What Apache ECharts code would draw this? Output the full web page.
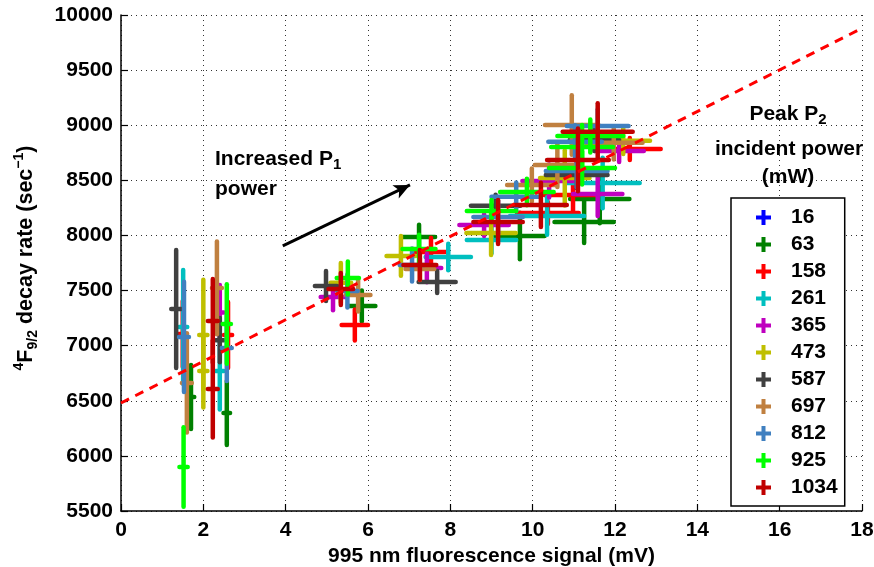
<!DOCTYPE html>
<html>
<head>
<meta charset="utf-8">
<script src="https://cdn.jsdelivr.net/npm/echarts@6/dist/echarts.min.js"></script>
<style>
  html, body { margin: 0; padding: 0; background: #fff; }
  #chart { width: 874px; height: 567px; }
</style>
</head>
<body>
<div id="chart"></div>
<script>
// legend names (peak P2 incident power, mW) and their colours
const powers = ["16", "63", "158", "261", "365", "473", "587", "697", "812", "925", "1034"];
const colors = ["#0000ff", "#008000", "#ff0000", "#00bfbf", "#bf00bf", "#bfbf00",
                "#404040", "#c08040", "#4080c0", "#00ff00", "#c00000"];

// points: [signal (mV), decay rate (1/s), x error, y error]
const p16 = [];
const p63 = [[1.70, 6535, 0.08, 290], [2.57, 6389, 0.08, 290], [5.85, 7360, 0.33, 140],
             [7.24, 7986, 0.39, 110], [9.69, 7995, 0.60, 210], [11.25, 8122, 0.72, 190],
             [11.63, 8331, 0.72, 220]];
const p158 = [[1.50, 7106, 0.10, 300], [2.60, 7097, 0.10, 300], [5.68, 7188, 0.32, 140],
              [7.53, 7850, 0.40, 130], [10.37, 8204, 0.75, 100], [10.98, 8367, 0.70, 150],
              [12.36, 8785, 0.75, 100]];
const p261 = [[1.51, 7170, 0.10, 517], [2.40, 6770, 0.10, 350], [7.95, 7805, 0.55, 120],
              [9.00, 7959, 0.60, 120], [10.35, 8177, 0.90, 170], [11.70, 8476, 0.90, 230]];
const p365 = [[2.40, 7300, 0.10, 250], [5.15, 7442, 0.30, 120], [7.43, 7705, 0.35, 130],
              [8.82, 8095, 0.60, 100], [10.40, 8494, 0.65, 150], [11.58, 8377, 0.60, 200],
              [12.10, 8767, 0.60, 100]];
const p473 = [[2.00, 7097, 0.10, 500], [2.00, 6770, 0.10, 330], [5.34, 7570, 0.25, 180],
              [6.80, 7814, 0.35, 180], [8.99, 8023, 0.60, 200], [10.78, 8522, 0.60, 250],
              [12.20, 8858, 0.65, 120]];
const p587 = [[1.34, 7333, 0.12, 535], [2.40, 7050, 0.10, 200], [4.98, 7542, 0.27, 136],
              [7.68, 7578, 0.45, 100], [9.10, 8270, 0.60, 100], [11.07, 8549, 0.75, 120],
              [11.50, 8867, 0.60, 100]];
const p697 = [[1.60, 6662, 0.12, 450], [2.33, 7524, 0.12, 420], [5.76, 7460, 0.30, 150],
              [7.26, 7696, 0.35, 100], [9.98, 8458, 0.60, 150], [10.60, 8640, 0.55, 200],
              [10.95, 9003, 0.65, 270], [11.97, 8840, 0.70, 150]];
const p812 = [[1.53, 7079, 0.12, 500], [2.57, 6979, 0.12, 300], [5.50, 7496, 0.25, 150],
              [7.07, 7732, 0.30, 150], [9.16, 8168, 0.60, 150], [9.60, 8350, 0.60, 130],
              [11.07, 8585, 0.75, 150], [11.03, 8849, 0.65, 150], [11.58, 8994, 0.75, 150]];
const p925 = [[1.52, 5899, 0.10, 360], [2.57, 7197, 0.10, 360], [5.51, 7614, 0.27, 150],
              [7.24, 7877, 0.40, 130], [9.00, 8222, 0.60, 100], [9.86, 8395, 0.65, 120],
              [11.20, 8612, 0.80, 150], [11.20, 8803, 0.75, 200], [11.40, 8903, 0.80, 150]];
const p1034 = [[2.23, 7224, 0.12, 380], [2.23, 6607, 0.12, 440], [5.34, 7515, 0.30, 145],
               [7.26, 7732, 0.40, 135], [9.16, 8122, 0.60, 200], [10.20, 8277, 0.63, 200],
               [11.10, 8685, 0.75, 285], [11.58, 8940, 0.85, 260]];
const points = [p16, p63, p158, p261, p365, p473, p587, p697, p812, p925, p1034];

// linear fit and the "increased P1" arrow, in data units
const fitLine = [[0, 6480], [18, 9880]];
const arrowLine = [[3.93, 7905], [7.02, 8458]];

const FONT = "Liberation Sans, Arial, Helvetica, sans-serif";
const FS = 21;
const plus = "path://M5.5,0H9.5V5.5H15V9.5H9.5V15H5.5V9.5H0V5.5H5.5Z";

function crossSeries(name, color, data) {
  return {
    name: name,
    type: "custom",
    data: data,
    itemStyle: { color: color },
    encode: { x: 0, y: 1 },
    renderItem: function (params, api) {
      const x = api.value(0), y = api.value(1), ex = api.value(2), ey = api.value(3);
      const l = api.coord([x - ex, y]), r = api.coord([x + ex, y]);
      const t = api.coord([x, y + ey]), b = api.coord([x, y - ey]);
      const style = { stroke: color, lineWidth: 4.5, lineCap: "round" };
      return {
        type: "group",
        children: [
          { type: "line", shape: { x1: l[0], y1: l[1], x2: r[0], y2: r[1] }, style: style },
          { type: "line", shape: { x1: t[0], y1: t[1], x2: b[0], y2: b[1] }, style: style }
        ]
      };
    }
  };
}

const series = powers.map(function (p, i) { return crossSeries(p, colors[i], points[i]); });
series.push({
  type: "line",
  data: fitLine,
  symbol: "none",
  silent: true,
  z: 5,
  lineStyle: { color: "#ff0000", width: 3, type: [9, 7] }
});
series.push({
  type: "line",
  data: [],
  silent: true,
  markLine: {
    silent: true,
    symbol: ["none", "arrow"],
    symbolSize: [11, 16],
    label: { show: false },
    lineStyle: { color: "#000", width: 3, type: "solid" },
    data: [[{ coord: arrowLine[0] }, { coord: arrowLine[1] }]]
  }
});

const chart = echarts.init(document.getElementById("chart"));
chart.setOption({
  animation: false,
  backgroundColor: "#fff",
  textStyle: { fontFamily: FONT },
  grid: { left: 121, top: 15, right: 12, bottom: 56, containLabel: false, outerBoundsMode: "none" },
  xAxis: {
    type: "value",
    min: 0, max: 18, interval: 2,
    name: "995 nm fluorescence signal (mV)",
    nameLocation: "middle",
    nameGap: 34,
    nameTextStyle: { fontSize: FS, fontWeight: "bold", color: "#000", fontFamily: FONT },
    axisLine: { lineStyle: { color: "#000", width: 1.5 } },
    axisTick: { inside: true, length: 7, lineStyle: { color: "#000", width: 1.2 } },
    axisLabel: { fontSize: FS, fontWeight: "bold", color: "#000", margin: 9, fontFamily: FONT },
    splitLine: { show: true, lineStyle: { color: "#333", width: 1, type: [1, 4] } }
  },
  yAxis: {
    type: "value",
    min: 5500, max: 10000, interval: 500,
    axisLine: { show: true, lineStyle: { color: "#000", width: 1.5 } },
    axisTick: { show: true, inside: true, length: 7, lineStyle: { color: "#000", width: 1.2 } },
    axisLabel: { fontSize: FS, fontWeight: "bold", color: "#000", margin: 8, fontFamily: FONT,
                 formatter: function (v) { return String(v); } },
    splitLine: { show: true, lineStyle: { color: "#333", width: 1, type: [1, 4] } }
  },
  legend: {
    data: powers,
    orient: "vertical",
    left: 731,
    top: 198,
    icon: plus,
    itemWidth: 15,
    itemHeight: 15,
    itemGap: 6,
    padding: [9, 7, 8, 25],
    backgroundColor: "#fff",
    borderColor: "#000",
    borderWidth: 1.5,
    selectedMode: false,
    textStyle: { fontSize: FS, fontWeight: "bold", color: "#000", fontFamily: FONT, padding: [0, 0, 0, 15] }
  },
  graphic: [
    {
      type: "text", x: 26, y: 258, rotation: Math.PI / 2, z: 10,
      style: {
        text: "{sup|4}{b|F}{sub|9/2}{b| decay rate (sec}{sup|−1}{b|)}",
        align: "center", verticalAlign: "middle",
        rich: {
          b: { fontSize: 21.5, fontWeight: "bold", fontFamily: FONT, lineHeight: 28, fill: "#000" },
          sup: { fontSize: 14, fontWeight: "bold", fontFamily: FONT, lineHeight: 14, verticalAlign: "top", fill: "#000" },
          sub: { fontSize: 14, fontWeight: "bold", fontFamily: FONT, lineHeight: 14, verticalAlign: "bottom", fill: "#000" }
        }
      }
    },
    {
      type: "text", x: 215, y: 147, z: 10,
      style: {
        text: "{b|Increased P}{sub|1}",
        align: "left", verticalAlign: "top",
        rich: {
          b: { fontSize: FS, fontWeight: "bold", fontFamily: FONT, lineHeight: 25, fill: "#000" },
          sub: { fontSize: 15, fontWeight: "bold", fontFamily: FONT, lineHeight: 15, verticalAlign: "bottom", fill: "#000" }
        }
      }
    },
    {
      type: "text", x: 215, y: 179, z: 10,
      style: { text: "power", align: "left", verticalAlign: "top",
               font: "bold " + FS + "px " + FONT, fill: "#000" }
    },
    {
      type: "text", x: 788, y: 102, z: 10,
      style: {
        text: "{b|Peak P}{sub|2}",
        align: "center", verticalAlign: "top",
        rich: {
          b: { fontSize: FS, fontWeight: "bold", fontFamily: FONT, lineHeight: 25, fill: "#000" },
          sub: { fontSize: 15, fontWeight: "bold", fontFamily: FONT, lineHeight: 15, verticalAlign: "bottom", fill: "#000" }
        }
      }
    },
    {
      type: "text", x: 789, y: 139, z: 10,
      style: { text: "incident power", align: "center", verticalAlign: "top",
               font: "bold " + FS + "px " + FONT, fill: "#000" }
    },
    {
      type: "text", x: 788, y: 167, z: 10,
      style: { text: "(mW)", align: "center", verticalAlign: "top",
               font: "bold " + FS + "px " + FONT, fill: "#000" }
    }
  ],
  series: series
});
</script>
</body>
</html>
